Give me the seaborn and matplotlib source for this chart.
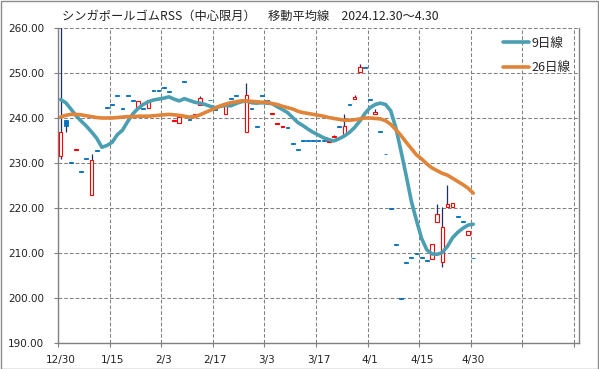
import numpy as np
import pandas as pd
import matplotlib
matplotlib.use('Agg')
import matplotlib.pyplot as plt
import seaborn as sns
from matplotlib.patches import Rectangle

nan = np.nan

# tick labels (every 10th trading day)
tick_labels = ['12/30', '1/15', '2/3', '2/17', '3/3', '3/17', '4/1', '4/15', '4/30', '', '']

# candles, one per trading day (index 0 = 12/30, 80 = 4/30)
opens = [231.5, 239.6, 230.2, 232.8, 228.2, 231.0, 223.0, 232.8, nan, 242.5,
         243.1, 245.0, 242.2, 245.0, 243.9, 242.2, 242.2, 242.2, 246.3, 246.3,
         246.9, 245.9, 239.3, 239.0, 248.2, 239.7, 240.2, 242.9, nan, 244.1,
         241.9, nan, 240.8, 244.5, 245.0, nan, 237.0, 242.2, 238.2, 245.0,
         243.9, 240.9, 238.6, 238.1, 237.9, 234.5, 233.0, 235.05, 235.05, 235.05,
         235.05, 235.05, 234.6, 235.7, 238.2, 236.2, 243.0, 244.2, 250.2, 251.3,
         244.2, 241.0, 237.1, 232.1, 219.9, 211.9, 199.9, 207.9, 209.1, 209.9,
         209.1, 208.5, 208.6, 217.0, 207.9, 220.2, 220.2, 218.2, 217.1, 214.1,
         209.0]
closes = [236.8, 238.3, 230.0, 233.0, 228.0, 230.8, 230.7, 232.6, nan, 242.3,
          242.9, 244.8, 242.0, 244.8, 243.7, 243.8, 242.0, 244.1, 246.1, 246.1,
          246.7, 245.7, 239.5, 240.3, 248.0, 239.5, 241.0, 244.4, nan, 243.9,
          241.7, nan, 243.0, 244.3, 244.8, nan, 245.1, 242.0, 238.0, 244.8,
          243.7, 241.1, 238.8, 238.3, 237.7, 234.3, 232.8, 234.85, 234.85, 234.85,
          234.85, 234.85, 234.8, 235.9, 238.0, 238.2, 242.8, 244.7, 251.3, 251.1,
          244.0, 241.3, 236.9, 231.9, 219.7, 211.7, 199.7, 207.7, 208.9, 209.7,
          208.9, 208.3, 211.9, 218.6, 215.7, 220.9, 221.0, 218.0, 216.9, 214.9,
          208.8]
highs = [262.0, 239.6, 230.2, 233.0, 228.2, 231.0, 231.9, 232.8, nan, 242.5,
         243.1, 245.0, 242.2, 245.0, 243.9, 243.8, 242.2, 244.1, 246.3, 246.3,
         246.9, 245.9, 239.5, 241.0, 248.2, 239.7, 241.0, 245.0, nan, 244.1,
         241.9, nan, 243.0, 244.5, 245.0, nan, 247.7, 242.2, 238.2, 245.0,
         243.9, 241.1, 238.8, 238.3, 237.9, 234.5, 233.0, 235.05, 235.05, 235.05,
         235.05, 235.05, 234.8, 236.3, 238.2, 241.0, 243.0, 245.1, 252.1, 251.3,
         244.2, 242.1, 237.1, 232.1, 219.9, 211.9, 199.9, 207.9, 209.1, 209.9,
         209.1, 208.5, 211.9, 221.0, 220.3, 225.1, 221.0, 218.2, 217.1, 214.9,
         209.0]
lows = [231.0, 237.0, 230.0, 232.8, 228.0, 230.8, 223.0, 232.6, nan, 242.3,
        242.9, 244.8, 242.0, 244.8, 243.7, 242.2, 242.0, 242.2, 246.1, 246.1,
        246.7, 245.7, 239.3, 239.0, 248.0, 239.5, 240.2, 242.9, nan, 243.9,
        241.7, nan, 240.8, 244.3, 244.8, nan, 237.0, 242.0, 238.0, 244.8,
        243.7, 240.9, 238.6, 238.1, 237.7, 234.3, 232.8, 234.85, 234.85, 234.85,
        234.85, 234.85, 234.6, 235.7, 238.0, 236.2, 242.8, 244.2, 250.2, 251.1,
        244.0, 241.0, 236.9, 231.9, 219.7, 211.7, 199.7, 207.7, 208.9, 209.7,
        208.9, 208.3, 208.6, 217.0, 207.0, 220.2, 220.2, 218.0, 216.9, 214.1,
        208.8]

# moving averages
ma9 = [244.1, 243.4, 242.0, 240.5, 239.3, 238.2, 236.9, 235.5, 233.5, 233.9,
       234.6, 236.3, 237.3, 239.2, 240.9, 242.1, 243.0, 243.6, 244.0, 244.2,
       244.4, 244.7, 244.2, 243.8, 244.3, 243.9, 243.5, 243.3, 243.0, 242.6,
       242.3, 242.6, 242.8, 242.7, 243.2, 243.6, 243.8, 243.4, 243.3, 243.4,
       243.3, 243.2, 242.5, 241.9, 241.2, 240.1, 239.0, 238.3, 237.5, 236.8,
       236.2, 235.6, 235.2, 234.9, 235.4, 236.0, 236.8, 237.9, 239.3, 241.0,
       242.3, 243.0, 243.3, 243.0, 241.6, 237.8, 232.6, 227.2, 221.5, 217.2,
       213.2, 210.7, 209.8, 209.7, 210.1, 211.5, 213.4, 214.6, 215.5, 216.2,
       216.4]
ma26 = [240.2, 240.6, 240.8, 240.8, 240.7, 240.5, 240.3, 240.1, 240.0, 240.0,
        240.0, 240.1, 240.2, 240.3, 240.3, 240.4, 240.4, 240.4, 240.5, 240.6,
        240.7, 240.8, 240.7, 240.6, 240.4, 240.2, 240.3, 240.7, 241.2, 241.7,
        242.2, 242.7, 243.1, 243.4, 243.6, 243.8, 243.8, 243.7, 243.6, 243.5,
        243.5, 243.2, 243.0, 242.6, 242.3, 242.0, 241.5, 241.2, 241.0, 240.8,
        240.6, 240.4, 240.1, 239.9, 239.7, 239.5, 239.5, 239.6, 239.8, 240.0,
        240.0, 239.9, 239.8, 239.4, 238.6, 237.4, 236.1, 234.6, 233.2, 231.8,
        230.9, 229.8, 228.9, 228.3, 227.7, 227.3, 226.6, 225.9, 225.2, 224.4,
        223.3]

n_days = len(opens)
n_slots = 101

sns.set_style("white")
plt.rcParams['font.family'] = ['DejaVu Sans', 'Noto Sans CJK JP']
jp = ['Noto Sans CJK JP', 'DejaVu Sans']

fig = plt.figure(figsize=(5.99, 3.69), dpi=100)
ax = fig.add_axes([58 / 599, 1 - 343 / 369, 521 / 599, 315 / 369])

df = pd.DataFrame({'idx': np.arange(n_days), 'open': opens, 'high': highs,
                   'low': lows, 'close': closes})
df = df.dropna()
up = df[df['close'] >= df['open']]
down = df[df['close'] < df['open']]

# wicks
ax.vlines(df['idx'], df['low'], df['high'], color='#1F2F6B', lw=0.9, zorder=2)
# bodies
ax.bar(up['idx'], up['close'] - up['open'], bottom=up['open'], width=0.68,
       facecolor='white', edgecolor='#FF0000', linewidth=0.8, zorder=3)
ax.bar(down['idx'], down['open'] - down['close'], bottom=down['close'], width=0.74,
       facecolor='#0070C0', edgecolor='#0070C0', linewidth=0.6, zorder=3)

# moving averages
ma_df = pd.DataFrame({'idx': np.arange(n_days), '9日線': ma9, '26日線': ma26})
ma_long = ma_df.melt(id_vars='idx', var_name='line', value_name='price')
sns.lineplot(data=ma_long, x='idx', y='price', hue='line',
             palette={'9日線': '#4A9FB3', '26日線': '#E0843A'},
             linewidth=2.6, ax=ax, zorder=4)

ax.set_xlim(-0.5, n_slots - 0.5)
ax.set_ylim(190, 260)
ax.set_xlabel('')
ax.set_ylabel('')

# axis ticks: tick marks between categories, labels on categories
ax.set_xticks(np.arange(-0.5, n_slots, 10))
ax.set_xticklabels([])
ax.set_xticks(np.arange(0, n_slots, 10), minor=True)
ax.set_xticklabels(tick_labels, minor=True)
ax.tick_params(axis='x', which='major', direction='out', length=3, width=0.8,
               color='#808080', bottom=True)
ax.tick_params(axis='x', which='minor', length=0, pad=9, labelsize=7.5,
               labelcolor='#222222')
ax.set_yticks(np.arange(190, 261, 10))
ax.set_yticklabels([f'{v:.2f}' for v in np.arange(190, 261, 10)])
ax.tick_params(axis='y', direction='out', length=3, width=0.8, color='#808080',
               left=True, pad=7, labelsize=7.5, labelcolor='#222222')

ax.grid(True, which='major', axis='both', color='#808080', linestyle=(0, (3.5, 2)),
        linewidth=0.75, zorder=0)
ax.set_axisbelow(True)

for side in ['left', 'bottom', 'right']:
    ax.spines[side].set_color('#808080')
    ax.spines[side].set_linewidth(1.0)
    ax.spines[side].set_visible(True)
ax.spines['top'].set_visible(False)

handles, labels = ax.get_legend_handles_labels()
leg = ax.legend(handles, labels, loc='upper right', frameon=False,
                handlelength=2.1, handletextpad=0.15, labelspacing=0.9,
                borderaxespad=0.3, prop={'family': jp, 'size': 9})

fig.text(250 / 599, 1 - 16 / 369,
         'シンガポールゴムRSS（中心限月）　移動平均線　2024.12.30～4.30',
         ha='center', va='center', fontsize=8.8, family=jp, color='#222222')

fig.patches.append(Rectangle((0.001, 0.001), 0.997, 0.996, transform=fig.transFigure,
                             fill=False, edgecolor='#8C8C8C', linewidth=1.0))

fig.savefig('out.png', dpi=100)
